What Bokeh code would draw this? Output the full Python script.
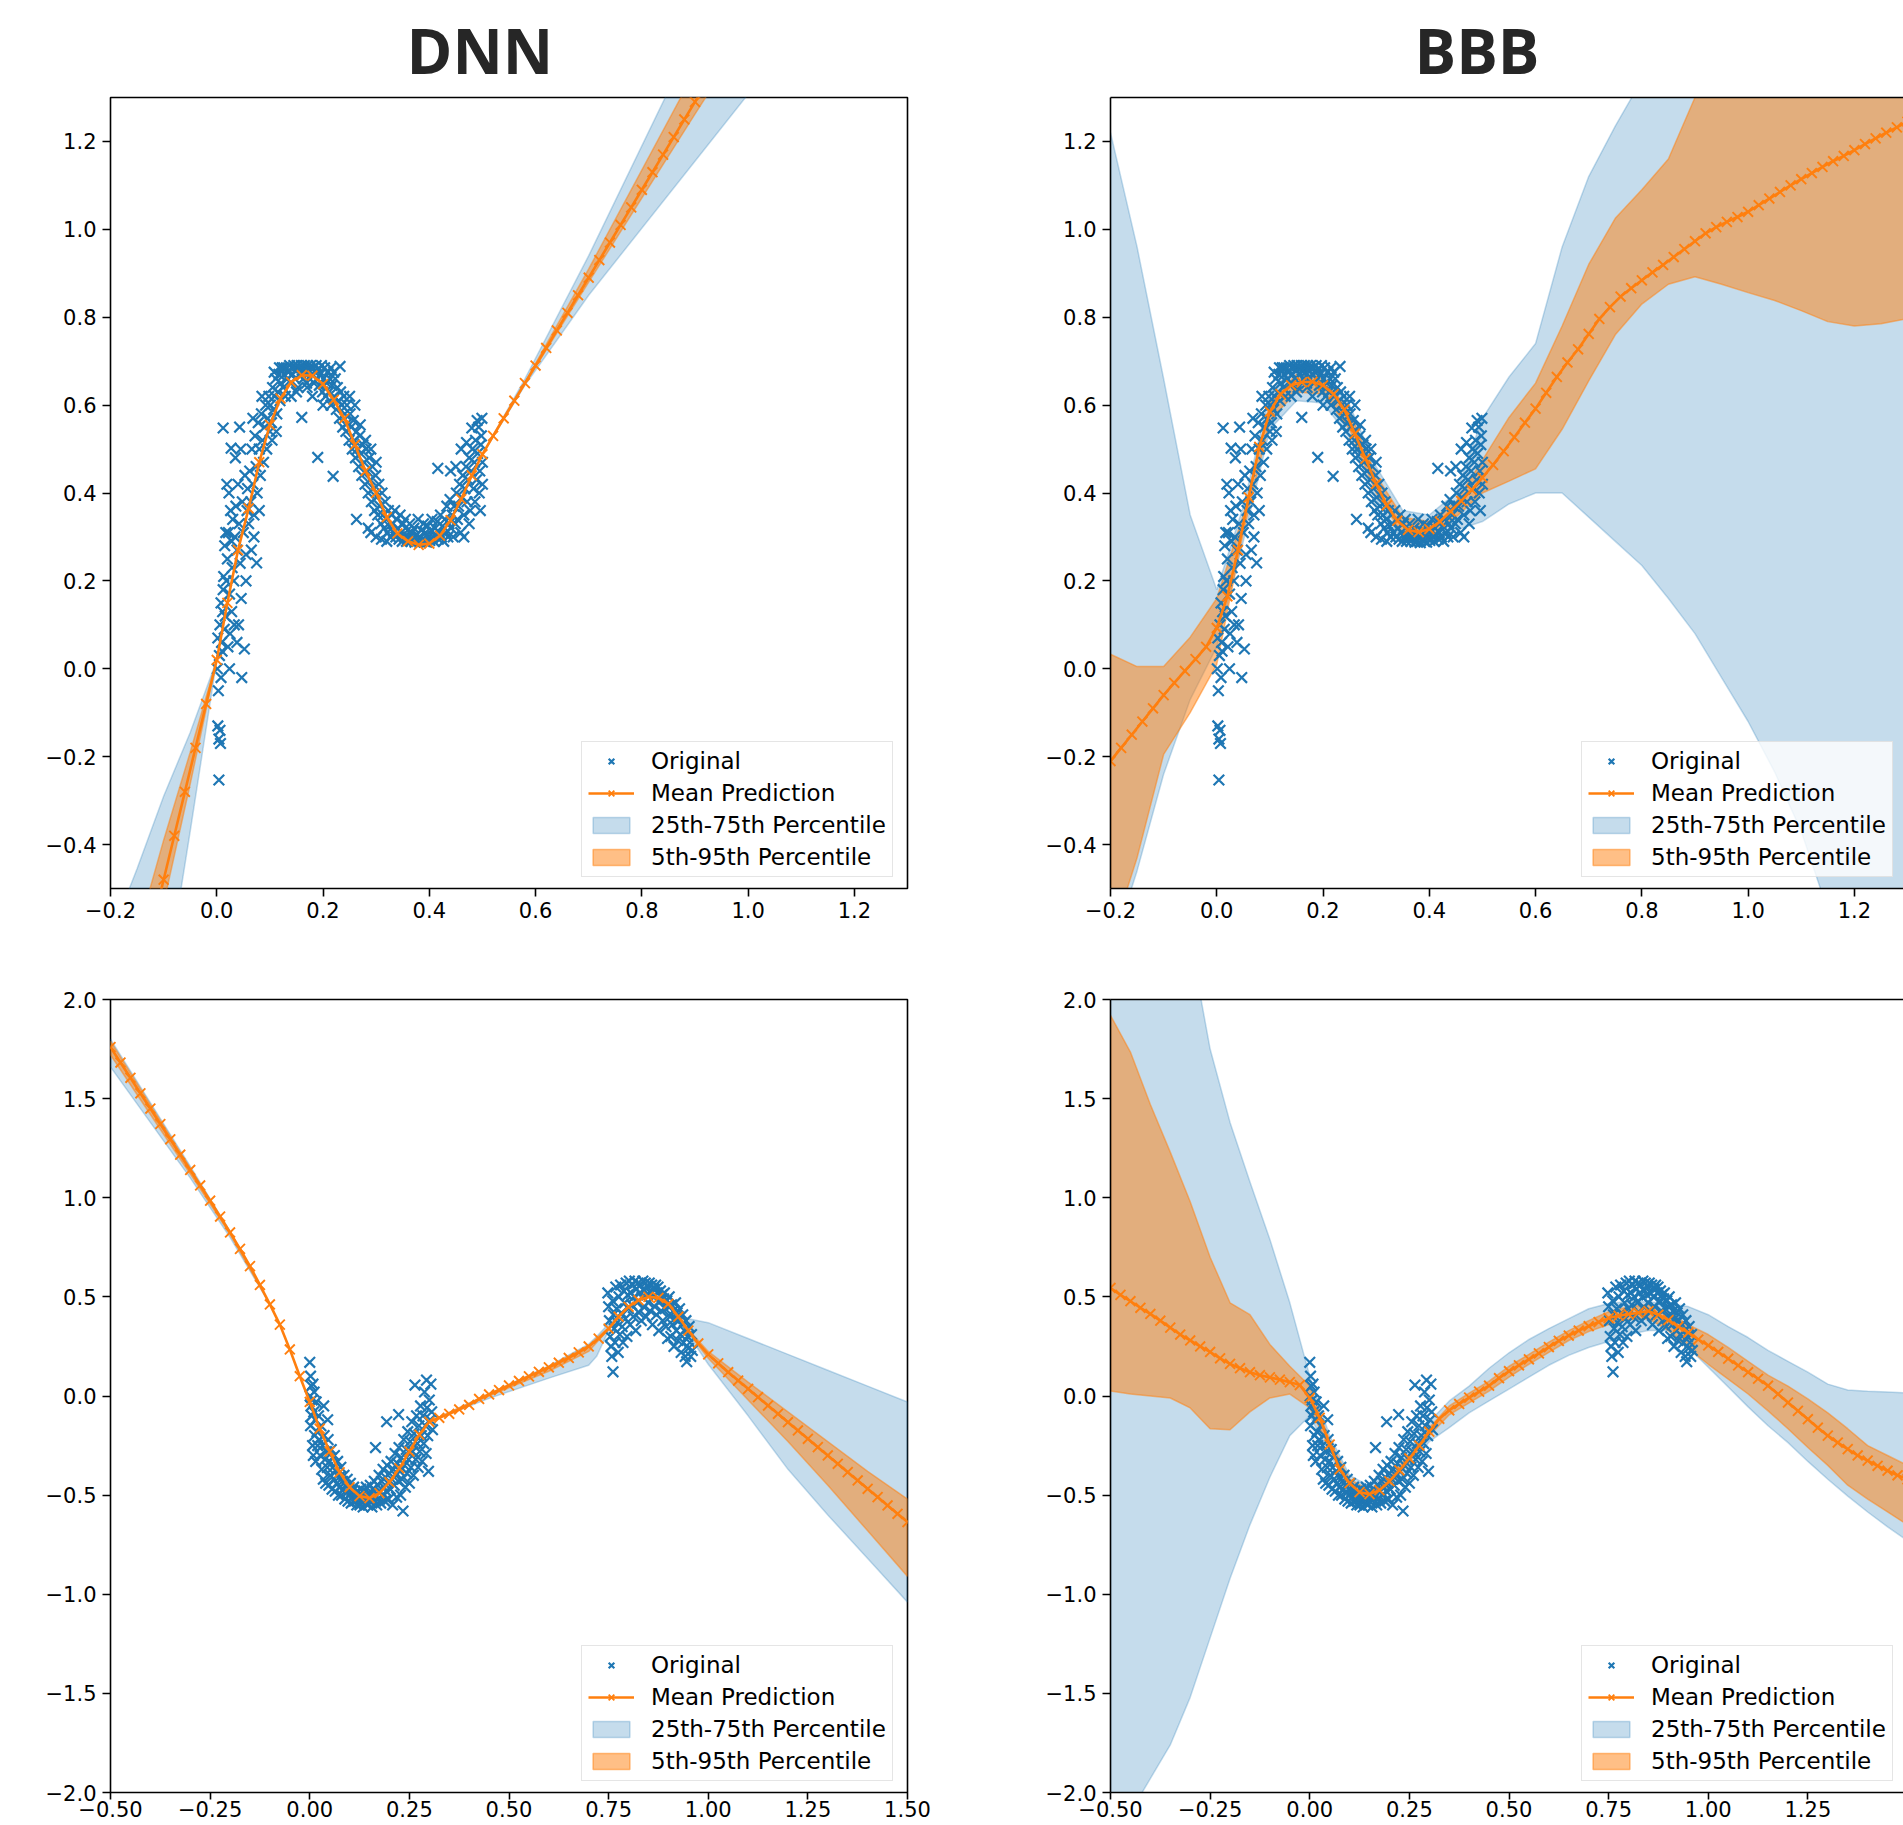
from bokeh.plotting import figure
from bokeh.layouts import column, row
from bokeh.models import (Range1d, FixedTicker, Legend, LegendItem, LinearAxis,
                          CustomJSTickFormatter)
from bokeh.embed import file_html
from bokeh.resources import INLINE

# ------------------------------------------------------------------ data
# evaluation grid of the top (toy regression 1) panels
top_grid_x = [-0.2,-0.18,-0.16,-0.14,-0.12,-0.1,-0.08,-0.06,-0.04,-0.02,
              0.0,0.02,0.04,0.06,0.08,0.1,0.12,0.14,0.16,0.18,
              0.2,0.22,0.24,0.26,0.28,0.3,0.32,0.34,0.36,0.38,
              0.4,0.42,0.44,0.46,0.48,0.5,0.52,0.54,0.56,0.58,
              0.6,0.62,0.64,0.66,0.68,0.7,0.72,0.74,0.76,0.78,
              0.8,0.82,0.84,0.86,0.88,0.9,0.92,0.94,0.96,0.98,
              1.0,1.02,1.04,1.06,1.08,1.1,1.12,1.14,1.16,1.18,
              1.2,1.22,1.24,1.26,1.28,1.3]

dnn_top_mean = [-0.99,-0.885,-0.78,-0.68,-0.58,-0.48,-0.38,-0.28,-0.18,-0.08,
                0.02,0.15,0.27,0.365,0.47,0.555,0.615,0.652,0.668,0.667,
                0.648,0.612,0.57,0.51,0.45,0.40,0.345,0.308,0.29,0.282,
                0.285,0.303,0.338,0.386,0.44,0.488,0.53,0.57,0.61,0.65,
                0.69,0.73,0.77,0.81,0.85,0.89,0.93,0.97,1.01,1.05,
                1.09,1.13,1.17,1.21,1.25,1.29,1.33,1.37,1.41,1.45,
                1.49,1.53,1.57,1.61,1.65,1.69,1.73,1.77,1.81,1.85,
                1.89,1.93,1.97,2.01,2.05,2.09]

bbb_top_mean = [-0.21,-0.18,-0.15,-0.12,-0.09,-0.06,-0.032,-0.005,0.022,0.05,
                0.093,0.165,0.27,0.39,0.505,0.585,0.625,0.645,0.652,0.653,
                0.645,0.625,0.59,0.535,0.478,0.421,0.372,0.337,0.316,0.311,
                0.318,0.335,0.358,0.382,0.407,0.435,0.464,0.495,0.527,0.56,
                0.592,0.628,0.664,0.697,0.727,0.762,0.796,0.823,0.847,0.866,
                0.884,0.902,0.919,0.937,0.955,0.973,0.991,1.005,1.017,1.028,
                1.04,1.055,1.07,1.085,1.1,1.114,1.128,1.142,1.155,1.167,
                1.18,1.194,1.207,1.22,1.232,1.245]

# evaluation grid of the bottom (toy regression 2) panels
bottom_grid_x = [-0.5,-0.475,-0.45,-0.425,-0.4,-0.375,-0.35,-0.325,-0.3,-0.275,
                 -0.25,-0.225,-0.2,-0.175,-0.15,-0.125,-0.1,-0.075,-0.05,-0.025,
                 0.0,0.025,0.05,0.075,0.1,0.125,0.15,0.175,0.2,0.225,
                 0.25,0.275,0.3,0.325,0.35,0.375,0.4,0.425,0.45,0.475,
                 0.5,0.525,0.55,0.575,0.6,0.625,0.65,0.675,0.7,0.725,
                 0.75,0.775,0.8,0.825,0.85,0.875,0.9,0.925,0.95,0.975,
                 1.0,1.025,1.05,1.075,1.1,1.125,1.15,1.175,1.2,1.225,
                 1.25,1.275,1.3,1.325,1.35,1.375,1.4,1.425,1.45,1.475,
                 1.5]

dnn_bottom_mean = [1.76,1.682,1.605,1.527,1.45,1.372,1.295,1.217,1.14,1.062,
                   0.985,0.905,0.825,0.742,0.655,0.56,0.462,0.36,0.235,0.10,
                   -0.03,-0.165,-0.28,-0.385,-0.46,-0.505,-0.515,-0.49,-0.435,-0.365,
                   -0.28,-0.195,-0.13,-0.11,-0.09,-0.068,-0.045,-0.015,0.008,0.03,
                   0.053,0.076,0.099,0.122,0.145,0.168,0.192,0.22,0.25,0.29,
                   0.34,0.40,0.45,0.483,0.50,0.495,0.465,0.40,0.33,0.265,
                   0.21,0.165,0.12,0.078,0.036,-0.006,-0.048,-0.09,-0.132,-0.174,
                   -0.216,-0.258,-0.30,-0.342,-0.384,-0.426,-0.468,-0.51,-0.552,-0.594,
                   -0.636]

bbb_bottom_mean = [0.545,0.51,0.478,0.445,0.414,0.38,0.345,0.31,0.28,0.25,
                   0.222,0.19,0.162,0.14,0.12,0.105,0.094,0.082,0.07,0.055,
                   -0.01,-0.11,-0.245,-0.37,-0.44,-0.485,-0.495,-0.475,-0.43,-0.375,
                   -0.315,-0.25,-0.18,-0.115,-0.072,-0.04,-0.008,0.022,0.052,0.09,
                   0.125,0.155,0.185,0.215,0.247,0.278,0.305,0.33,0.352,0.373,
                   0.393,0.405,0.413,0.42,0.428,0.41,0.383,0.35,0.32,0.285,
                   0.255,0.222,0.188,0.154,0.12,0.087,0.052,0.01,-0.033,-0.075,
                   -0.117,-0.16,-0.2,-0.235,-0.268,-0.3,-0.326,-0.352,-0.377,-0.4,
                   -0.42]

# percentile bands: pieces of (x knots, blue low/high, orange low/high)
dnn_top_band_x = [[-0.2,-0.15,-0.1,-0.05,0.0],
                  [0.5,0.58,0.7,0.9,1.1,1.3]]
dnn_top_blue_lo = [[-1.53,-1.145,-0.75,-0.37,0.02],
                   [0.488,0.645,0.85,1.155,1.46,1.76]]
dnn_top_blue_hi = [[-0.61,-0.455,-0.29,-0.145,0.02],
                   [0.488,0.66,0.94,1.44,1.95,2.45]]
dnn_top_orange_lo = [[-1.10,-0.8225,-0.535,-0.2625,0.02],
                     [0.488,0.648,0.88,1.262,1.64,2.02]]
dnn_top_orange_hi = [[-0.81,-0.605,-0.39,-0.19,0.02],
                     [0.488,0.652,0.91,1.36,1.80,2.25]]

bbb_top_band_x = [[-0.2,-0.15,-0.1,-0.05,0.0,0.05,0.1,0.15,0.2,0.25,0.3,0.35,0.4,0.45,0.5,0.55,
                   0.6,0.65,0.7,0.75,0.8,0.85,0.9,0.95,1.0,1.05,1.1,1.15,1.2,1.25,1.3]]
bbb_top_blue_lo = [[-0.65,-0.46,-0.24,-0.07,0.05,0.29,0.545,0.61,0.605,0.525,0.385,0.29,0.285,0.315,0.335,0.375,
                    0.40,0.40,0.345,0.29,0.235,0.16,0.08,-0.02,-0.12,-0.235,-0.37,-0.55,-0.75,-0.95,-1.15]]
bbb_top_blue_hi = [[1.22,0.96,0.66,0.35,0.18,0.37,0.63,0.69,0.685,0.60,0.46,0.36,0.35,0.40,0.57,0.664,
                    0.74,0.96,1.12,1.235,1.34,1.45,1.55,1.65,1.75,1.85,1.95,2.05,2.15,2.25,2.35]]
bbb_top_orange_lo = [[-0.62,-0.43,-0.195,-0.10,0.01,0.31,0.565,0.63,0.625,0.545,0.40,0.305,0.298,0.345,0.40,0.427,
                      0.455,0.545,0.655,0.76,0.83,0.875,0.892,0.875,0.856,0.838,0.815,0.79,0.78,0.785,0.797]]
bbb_top_orange_hi = [[0.033,0.005,0.005,0.072,0.16,0.35,0.605,0.67,0.665,0.585,0.44,0.345,0.335,0.38,0.475,0.572,
                      0.65,0.78,0.92,1.025,1.09,1.16,1.30,1.45,1.55,1.65,1.75,1.85,1.95,2.05,2.15]]

dnn_bottom_band_x = [[-0.5,-0.4,-0.3,-0.2,-0.1],
                     [0.3,0.45,0.6,0.7,0.72,0.75,0.78],
                     [0.92,0.95,1.0,1.1,1.2,1.3,1.4,1.5]]
dnn_bottom_blue_lo = [[1.66,1.38,1.10,0.80,0.462],
                      [-0.13,-0.012,0.09,0.155,0.2,0.33,0.41],
                      [0.413,0.31,0.16,-0.10,-0.37,-0.60,-0.82,-1.04]]
dnn_bottom_blue_hi = [[1.80,1.48,1.16,0.83,0.462],
                      [-0.13,0.012,0.152,0.262,0.30,0.365,0.41],
                      [0.413,0.39,0.37,0.29,0.21,0.13,0.05,-0.03]]
dnn_bottom_orange_lo = [[1.72,1.42,1.12,0.815,0.462],
                        [-0.13,0.0,0.125,0.225,0.27,0.335,0.41],
                        [0.413,0.32,0.19,-0.02,-0.23,-0.45,-0.68,-0.91]]
dnn_bottom_orange_hi = [[1.79,1.47,1.15,0.83,0.462],
                        [-0.13,0.01,0.148,0.255,0.293,0.345,0.41],
                        [0.413,0.335,0.225,0.07,-0.08,-0.23,-0.38,-0.52]]

bbb_bottom_band_x = [[-0.5,-0.45,-0.4,-0.35,-0.3,-0.25,-0.2,-0.15,-0.1,-0.05,0.0,0.05,0.1,0.15,0.2,0.25,0.3,
                      0.35,0.4,0.45,0.5,0.55,0.6,0.65,0.7,0.75,0.8,0.85,0.9,0.95,1.0,1.05,1.1,1.15,1.2,
                      1.25,1.3,1.35,1.4,1.45,1.5]]
bbb_bottom_blue_lo = [[-2.3,-2.1,-1.93,-1.76,-1.52,-1.22,-0.92,-0.65,-0.41,-0.2,-0.1,-0.29,-0.48,-0.535,-0.47,
                       -0.36,-0.23,-0.16,-0.085,-0.025,0.035,0.095,0.155,0.205,0.245,0.275,0.31,0.33,0.33,
                       0.245,0.145,0.045,-0.055,-0.15,-0.235,-0.33,-0.42,-0.505,-0.585,-0.66,-0.73]]
bbb_bottom_blue_hi = [[3.2,3.0,2.8,2.55,2.3,1.75,1.38,1.08,0.79,0.47,0.1,-0.2,-0.40,-0.455,-0.39,-0.27,-0.13,
                       -0.025,0.05,0.14,0.218,0.285,0.34,0.39,0.44,0.467,0.477,0.476,0.465,0.451,0.41,0.35,
                       0.295,0.23,0.175,0.12,0.06,0.03,0.024,0.02,0.015]]
bbb_bottom_orange_lo = [[0.025,0.01,0.0,-0.01,-0.06,-0.165,-0.17,-0.08,-0.01,0.01,-0.06,-0.265,-0.46,-0.515,
                         -0.45,-0.335,-0.2,-0.095,-0.035,0.025,0.095,0.16,0.22,0.28,0.325,0.36,0.385,0.39,
                         0.33,0.24,0.16,0.085,0.01,-0.075,-0.165,-0.26,-0.35,-0.45,-0.52,-0.585,-0.65]]
bbb_bottom_orange_hi = [[1.92,1.735,1.47,1.23,0.98,0.70,0.47,0.41,0.26,0.15,0.05,-0.225,-0.42,-0.475,-0.41,
                         -0.295,-0.16,-0.05,0.015,0.075,0.15,0.21,0.272,0.33,0.38,0.425,0.45,0.462,0.42,0.36,
                         0.31,0.245,0.175,0.105,0.05,-0.015,-0.085,-0.165,-0.25,-0.3,-0.35]]

top_points = [
    (0.002,-0.13),(0.004,-0.16),(0.006,-0.14),(0.007,-0.17),(0.004,-0.253),(0.003,-0.05),(0.001,0.0),
    (0.005,0.03),(0.008,-0.02),(0.002,0.07),(0.006,0.1),(0.009,0.06),(0.011,0.13),(0.012,0.18),
    (0.010,0.04),(0.013,0.21),(0.014,0.09),(0.008,0.15),(0.015,0.28),(0.012,0.548),
    (0.016,0.12),(0.018,0.2),(0.02,0.25),(0.022,0.31),(0.024,0.17),(0.026,0.36),(0.028,0.29),
    (0.019,0.42),(0.023,0.4),(0.027,0.502),(0.025,0.08),(0.029,0.23),(0.021,0.05),(0.017,0.31),
    (0.03,0.34),(0.024,0.0),(0.028,0.13),
    (0.032,0.2),(0.034,0.3),(0.036,0.37),(0.038,0.27),(0.04,0.42),(0.042,0.33),(0.044,0.24),
    (0.046,0.16),(0.048,0.38),(0.05,0.31),(0.052,0.045),(0.047,-0.02),(0.041,0.1),(0.055,0.26),
    (0.057,0.36),(0.053,0.44),(0.035,0.48),(0.045,0.5),(0.058,0.41),(0.033,0.1),(0.038,0.06),
    (0.055,0.2),(0.043,0.55),(0.06,0.33),
    (0.062,0.45),(0.064,0.38),(0.066,0.5),(0.068,0.42),(0.07,0.35),(0.072,0.53),(0.074,0.46),
    (0.075,0.241),(0.076,0.4),(0.078,0.56),(0.08,0.5),(0.082,0.44),(0.084,0.58),(0.086,0.52),
    (0.088,0.47),(0.09,0.55),(0.092,0.6),(0.094,0.5),(0.096,0.57),(0.098,0.62),(0.07,0.3),
    (0.065,0.27),(0.08,0.36),(0.1,0.54),(0.085,0.62),(0.068,0.57),
    (0.101,0.6),(0.103,0.56),(0.105,0.64),(0.107,0.59),(0.109,0.62),(0.111,0.66),(0.113,0.58),
    (0.115,0.63),(0.117,0.67),(0.119,0.61),(0.121,0.65),(0.123,0.685),(0.125,0.64),(0.127,0.67),
    (0.129,0.62),(0.104,0.52),(0.112,0.54),(0.118,0.685),(0.126,0.685),(0.108,0.675),
    (0.131,0.685),(0.133,0.66),(0.135,0.675),(0.137,0.69),(0.139,0.65),(0.141,0.685),(0.143,0.67),
    (0.145,0.69),(0.147,0.66),(0.149,0.68),(0.151,0.69),(0.153,0.64),(0.155,0.685),(0.157,0.67),
    (0.159,0.69),(0.16,0.572),(0.161,0.68),(0.163,0.66),(0.165,0.69),(0.167,0.675),(0.169,0.65),
    (0.171,0.69),(0.173,0.68),(0.175,0.66),(0.177,0.69),(0.179,0.67),(0.181,0.685),(0.183,0.65),
    (0.185,0.675),(0.187,0.69),(0.189,0.66),(0.19,0.481),(0.191,0.68),(0.193,0.645),(0.195,0.67),
    (0.197,0.69),(0.199,0.63),(0.201,0.66),(0.203,0.685),(0.205,0.62),(0.207,0.65),(0.209,0.675),
    (0.14,0.62),(0.15,0.63),(0.17,0.64),(0.18,0.62),(0.2,0.6),(0.232,0.688),(0.215,0.685),(0.22,0.675),
    (0.211,0.63),(0.213,0.66),(0.215,0.6),(0.217,0.645),(0.219,0.438),(0.221,0.62),(0.223,0.66),
    (0.225,0.59),(0.227,0.64),(0.229,0.61),(0.231,0.57),(0.233,0.63),(0.235,0.6),(0.237,0.55),
    (0.239,0.62),(0.241,0.58),(0.243,0.54),(0.245,0.6),(0.247,0.56),(0.249,0.52),(0.251,0.58),
    (0.253,0.55),(0.255,0.5),(0.257,0.565),(0.259,0.52),(0.261,0.48),(0.263,0.34),(0.263,0.54),
    (0.265,0.5),(0.267,0.46),(0.269,0.53),(0.271,0.49),(0.273,0.44),(0.275,0.51),(0.277,0.47),
    (0.279,0.42),(0.281,0.5),(0.283,0.45),(0.285,0.4),(0.287,0.48),(0.289,0.43),(0.291,0.38),
    (0.293,0.46),(0.295,0.41),(0.297,0.36),(0.299,0.44),(0.301,0.39),(0.303,0.35),(0.305,0.42),
    (0.307,0.37),(0.309,0.33),(0.311,0.4),(0.313,0.35),(0.315,0.32),(0.317,0.38),(0.319,0.34),
    (0.321,0.31),(0.323,0.36),(0.325,0.325),(0.327,0.3),(0.329,0.35),
    (0.27,0.555),(0.29,0.5),(0.28,0.52),(0.3,0.47),(0.26,0.6),(0.25,0.62),
    (0.331,0.33),(0.333,0.31),(0.335,0.36),(0.337,0.3),(0.339,0.34),(0.341,0.32),(0.343,0.295),
    (0.345,0.35),(0.347,0.31),(0.349,0.29),(0.351,0.33),(0.353,0.3),(0.355,0.34),(0.357,0.29),
    (0.359,0.315),(0.361,0.3),(0.363,0.33),(0.365,0.29),(0.367,0.31),(0.369,0.295),(0.371,0.32),
    (0.373,0.288),(0.375,0.305),(0.377,0.29),(0.379,0.34),(0.381,0.3),(0.383,0.287),(0.385,0.315),
    (0.387,0.295),(0.389,0.33),(0.391,0.29),(0.393,0.31),(0.395,0.288),(0.397,0.325),(0.399,0.3),
    (0.401,0.292),(0.403,0.315),(0.405,0.34),(0.407,0.3),(0.409,0.29),(0.411,0.32),(0.413,0.305),
    (0.415,0.335),(0.417,0.295),(0.419,0.31),(0.421,0.35),(0.423,0.3),(0.425,0.325),(0.427,0.29),
    (0.429,0.34),(0.431,0.31),(0.433,0.37),(0.435,0.3),(0.437,0.33),(0.439,0.385),(0.441,0.32),
    (0.443,0.35),(0.445,0.3),(0.447,0.37),(0.449,0.33),
    (0.285,0.32),(0.29,0.31),(0.3,0.3),(0.31,0.295),(0.32,0.29),
    (0.451,0.4),(0.453,0.34),(0.455,0.37),(0.457,0.42),(0.459,0.31),(0.461,0.39),(0.463,0.44),
    (0.465,0.35),(0.467,0.41),(0.469,0.46),(0.471,0.38),(0.473,0.43),(0.475,0.48),(0.477,0.36),
    (0.479,0.45),(0.481,0.5),(0.483,0.41),(0.485,0.47),(0.487,0.52),(0.489,0.43),(0.491,0.49),
    (0.493,0.55),(0.495,0.45),(0.497,0.51),(0.499,0.57),(0.5,0.47),(0.498,0.53),(0.494,0.4),
    (0.486,0.38),(0.49,0.565),(0.48,0.548),(0.47,0.515),(0.44,0.45),(0.416,0.456),(0.46,0.5),
    (0.45,0.46),(0.475,0.33),(0.465,0.3),(0.5,0.42),(0.496,0.36),
]

bottom_points = [
    (0.0,0.17),(0.002,0.1),(0.004,0.05),(0.001,0.0),(0.003,-0.05),(0.005,-0.1),(0.002,-0.15),
    (0.006,-0.02),(0.008,0.06),(0.01,-0.08),(0.012,-0.2),(0.007,-0.25),(0.014,-0.12),(0.016,-0.03),
    (0.018,-0.18),(0.011,0.02),(0.02,-0.25),(0.009,-0.3),(0.015,-0.33),
    (0.022,-0.1),(0.024,-0.22),(0.026,-0.3),(0.028,-0.15),(0.03,-0.37),(0.032,-0.25),(0.034,-0.42),
    (0.036,-0.2),(0.038,-0.32),(0.04,-0.44),(0.042,-0.28),(0.044,-0.36),(0.046,-0.22),(0.048,-0.45),
    (0.05,-0.33),(0.052,-0.4),(0.054,-0.27),(0.056,-0.47),(0.058,-0.36),(0.06,-0.42),(0.035,-0.05),
    (0.045,-0.12),
    (0.062,-0.3),(0.064,-0.48),(0.066,-0.38),(0.068,-0.44),(0.07,-0.33),(0.072,-0.5),(0.074,-0.41),
    (0.076,-0.46),(0.078,-0.36),(0.08,-0.5),(0.082,-0.43),(0.084,-0.47),(0.086,-0.4),(0.088,-0.52),
    (0.09,-0.45),(0.092,-0.49),(0.094,-0.42),(0.096,-0.53),(0.098,-0.47),(0.1,-0.5),(0.102,-0.44),
    (0.104,-0.54),(0.106,-0.48),(0.108,-0.51),(0.11,-0.46),(0.112,-0.53),(0.114,-0.49),(0.116,-0.52),
    (0.118,-0.55),(0.12,-0.48),
    (0.122,-0.52),(0.124,-0.5),(0.126,-0.55),(0.128,-0.47),(0.13,-0.53),(0.132,-0.5),(0.134,-0.56),
    (0.136,-0.48),(0.138,-0.52),(0.14,-0.54),(0.142,-0.46),(0.144,-0.51),(0.146,-0.55),(0.148,-0.49),
    (0.15,-0.53),(0.152,-0.45),(0.154,-0.5),(0.156,-0.56),(0.158,-0.47),(0.16,-0.52),(0.162,-0.43),
    (0.165,-0.26),(0.166,-0.5),(0.168,-0.55),(0.17,-0.45),(0.172,-0.52),(0.174,-0.4),(0.176,-0.48),
    (0.178,-0.54),(0.18,-0.43),(0.182,-0.5),(0.184,-0.37),(0.186,-0.46),(0.188,-0.53),(0.19,-0.41),
    (0.192,-0.48),(0.193,-0.13),(0.194,-0.35),(0.196,-0.44),(0.198,-0.52),(0.2,-0.39),
    (0.202,-0.47),(0.204,-0.33),(0.206,-0.42),(0.208,-0.55),(0.21,-0.37),(0.212,-0.45),(0.214,-0.29),
    (0.216,-0.4),(0.218,-0.51),(0.22,-0.34),(0.222,-0.43),(0.223,-0.094),(0.224,-0.26),(0.226,-0.38),
    (0.228,-0.5),(0.23,-0.31),(0.232,-0.42),(0.234,-0.58),(0.236,-0.22),(0.238,-0.35),(0.24,-0.46),
    (0.242,-0.27),(0.244,-0.39),(0.246,-0.18),(0.248,-0.32),(0.25,-0.44),(0.252,-0.23),(0.254,-0.36),
    (0.256,-0.13),(0.258,-0.28),(0.26,-0.4),(0.262,-0.19),(0.264,0.055),(0.266,-0.32),(0.268,-0.1),
    (0.27,-0.24),(0.272,-0.36),(0.274,-0.15),(0.276,-0.28),(0.278,-0.05),(0.28,-0.2),(0.282,-0.33),
    (0.284,-0.1),(0.286,-0.24),(0.288,0.02),(0.29,-0.15),(0.292,-0.29),(0.293,0.08),(0.294,-0.06),
    (0.296,-0.2),(0.298,-0.38),(0.3,-0.02),(0.302,-0.12),(0.304,0.06),(0.306,-0.08),(0.308,-0.17),
    (0.748,0.52),(0.75,0.45),(0.752,0.38),(0.754,0.3),(0.756,0.25),(0.758,0.2),(0.761,0.122),
    (0.76,0.48),(0.762,0.41),(0.764,0.34),(0.766,0.27),(0.768,0.55),(0.77,0.44),(0.772,0.37),
    (0.774,0.22),(0.776,0.5),(0.778,0.31),(0.78,0.56),(0.782,0.42),(0.784,0.35),(0.786,0.27),
    (0.788,0.53),(0.79,0.47),(0.792,0.39),(0.794,0.57),(0.796,0.3),(0.798,0.51),(0.8,0.44),
    (0.802,0.58),(0.804,0.36),(0.806,0.52),(0.808,0.46),(0.81,0.56),(0.812,0.4),(0.814,0.5),
    (0.816,0.58),(0.818,0.33),(0.82,0.54),(0.822,0.47),(0.824,0.57),(0.826,0.42),(0.828,0.52),
    (0.83,0.56),(0.832,0.38),(0.834,0.5),(0.836,0.58),(0.838,0.45),(0.84,0.53),(0.842,0.57),
    (0.844,0.4),(0.846,0.51),(0.848,0.55),(0.85,0.47),(0.852,0.57),(0.854,0.43),(0.856,0.52),
    (0.858,0.56),(0.86,0.36),(0.862,0.5),(0.864,0.54),(0.866,0.45),(0.868,0.56),(0.87,0.41),
    (0.872,0.52),(0.874,0.55),(0.876,0.33),(0.878,0.48),(0.88,0.53),(0.882,0.43),(0.884,0.51),
    (0.886,0.38),(0.888,0.49),(0.89,0.52),(0.892,0.44),(0.894,0.35),(0.896,0.48),(0.898,0.29),
    (0.9,0.45),(0.902,0.5),(0.904,0.4),(0.906,0.3),(0.908,0.46),(0.91,0.36),(0.912,0.43),
    (0.914,0.25),(0.916,0.39),(0.918,0.47),(0.92,0.33),(0.922,0.42),(0.924,0.28),(0.926,0.38),
    (0.928,0.44),(0.93,0.31),(0.932,0.22),(0.934,0.36),(0.936,0.41),(0.938,0.27),(0.94,0.33),
    (0.942,0.2),(0.944,0.38),(0.946,0.173),(0.948,0.3),(0.95,0.24),(0.952,0.35),(0.954,0.27),
    (0.956,0.2),(0.958,0.31),(0.96,0.23),
]

top_x_ticks = [-0.2, 0.0, 0.2, 0.4, 0.6, 0.8, 1.0, 1.2]
top_y_ticks = [-0.4, -0.2, 0.0, 0.2, 0.4, 0.6, 0.8, 1.0, 1.2]
bottom_x_ticks = [-0.5, -0.25, 0.0, 0.25, 0.5, 0.75, 1.0, 1.25, 1.5]
bottom_y_ticks = [-2.0, -1.5, -1.0, -0.5, 0.0, 0.5, 1.0, 1.5, 2.0]

column_titles = ["DNN", "BBB"]
legend_labels = ["Original", "Mean Prediction", "25th-75th Percentile", "5th-95th Percentile"]

# ------------------------------------------------------------------ style
BLUE = "#1f77b4"
ORANGE = "#ff7f0e"
FRAME_W = 797
TICK_FONT = "DejaVu Sans"


def fmt(decimals):
    return CustomJSTickFormatter(
        code="return tick.toFixed(%d).replace('-', '\u2212');" % decimals)


def style_axis(ax, ticks, decimals, line_color, standoff):
    ax.ticker = FixedTicker(ticks=ticks, minor_ticks=[])
    ax.formatter = fmt(decimals)
    ax.major_tick_out = 8
    ax.major_tick_in = 0
    ax.minor_tick_out = 0
    ax.minor_tick_in = 0
    ax.major_tick_line_color = "black"
    ax.major_tick_line_width = 1.6
    ax.major_label_text_font = TICK_FONT
    ax.major_label_text_font_size = "21px"
    ax.major_label_text_color = "black"
    ax.major_label_standoff = standoff
    ax.axis_line_color = line_color
    ax.axis_line_width = 1.6


def panel(kind, col, grid_x, mean, band_x, blue_lo, blue_hi, orange_lo, orange_hi, points):
    if kind == "top":
        x0, x1, y0, y1 = -0.2, 1.3, -0.5, 1.3
        xt, yt, xd, yd = top_x_ticks, top_y_ticks, 1, 1
        height, mbt, mbb = 950, 96, 62
        xstand = 5
    else:
        x0, x1, y0, y1 = -0.5, 1.5, -2.0, 2.0
        xt, yt, xd, yd = bottom_x_ticks, bottom_y_ticks, 2, 1
        height, mbt, mbb = 875, 49, 33
        xstand = 1
    if col == 0:
        width, mbl, mbr, xend = 1000, 110, 93, x1
    else:
        # right column is cut by the page edge
        width, mbl, mbr = 903, 110, 0
        xend = x0 + 793 * (x1 - x0) / FRAME_W

    p = figure(width=width, height=height, x_range=Range1d(x0, xend), y_range=Range1d(y0, y1),
               output_backend="svg", toolbar_location=None,
               min_border_left=mbl, min_border_right=mbr, min_border_top=mbt, min_border_bottom=mbb,
               background_fill_color="white", border_fill_color="white")
    p.xgrid.visible = False
    p.ygrid.visible = False

    frame_line = None if col == 0 else "black"
    style_axis(p.xaxis[0], xt, xd, frame_line, xstand)
    style_axis(p.yaxis[0], yt, yd, frame_line, 6)
    if kind == "bottom":
        p.xaxis[0].major_tick_out = 7
    if col == 0:
        p.outline_line_color = "black"
        p.outline_line_width = 1.6
        p.outline_line_alpha = 1.0
    else:
        p.outline_line_color = None
        top_ax = LinearAxis(ticker=FixedTicker(ticks=[], minor_ticks=[]),
                            axis_line_color="black", axis_line_width=1.6,
                            major_tick_out=0, major_tick_in=0, minor_tick_out=0, minor_tick_in=0,
                            major_label_text_font_size="0px", major_label_standoff=0)
        p.add_layout(top_ax, "above")

    # bands
    bxs, bys, oxs, oys = [], [], [], []
    for bx, lo, hi in zip(band_x, blue_lo, blue_hi):
        bxs.append(bx + bx[::-1])
        bys.append(hi + lo[::-1])
    for bx, lo, hi in zip(band_x, orange_lo, orange_hi):
        oxs.append(bx + bx[::-1])
        oys.append(hi + lo[::-1])
    r_blue = p.patches(bxs, bys, fill_color=BLUE, fill_alpha=0.26,
                       line_color=BLUE, line_alpha=0.26, line_width=1.5)
    r_orange = p.patches(oxs, oys, fill_color=ORANGE, fill_alpha=0.5,
                         line_color=ORANGE, line_alpha=0.5, line_width=1.5)

    px = [pt[0] for pt in points]
    py = [pt[1] for pt in points]
    r_pts = p.scatter(px, py, marker="x", size=15, line_color=BLUE, line_width=2.2)
    r_line = p.line(grid_x, mean, line_color=ORANGE, line_width=2.6)
    r_mk = p.scatter(grid_x, mean, marker="x", size=14, line_color=ORANGE, line_width=1.9)

    legend = Legend(items=[LegendItem(label=legend_labels[0], renderers=[r_pts]),
                           LegendItem(label=legend_labels[1], renderers=[r_line, r_mk]),
                           LegendItem(label=legend_labels[2], renderers=[r_blue]),
                           LegendItem(label=legend_labels[3], renderers=[r_orange])],
                    location=(471, 11))
    legend.margin = 0
    legend.padding = 6
    legend.spacing = 6
    legend.glyph_width = 46
    legend.glyph_height = 20
    legend.label_standoff = 17
    legend.label_height = 20
    legend.label_text_font = TICK_FONT
    legend.label_text_font_size = "23px"
    legend.label_text_color = "black"
    legend.border_line_color = "#cccccc"
    legend.border_line_width = 1.5
    legend.background_fill_color = "white"
    legend.background_fill_alpha = 0.8
    p.add_layout(legend)

    if kind == "top":
        p.title.text = column_titles[col]
        p.title.align = "left"
        p.title.offset = 296 if col == 0 else 304
        p.title.text_font = "Open Sans"
        p.title.text_font_style = "bold"
        p.title.text_font_size = "62px"
        p.title.text_color = "#262626"
        p.title.standoff = 11
    return p


p_tl = panel("top", 0, top_grid_x, dnn_top_mean, dnn_top_band_x, dnn_top_blue_lo, dnn_top_blue_hi,
             dnn_top_orange_lo, dnn_top_orange_hi, top_points)
p_tr = panel("top", 1, top_grid_x, bbb_top_mean, bbb_top_band_x, bbb_top_blue_lo, bbb_top_blue_hi,
             bbb_top_orange_lo, bbb_top_orange_hi, top_points)
p_bl = panel("bottom", 0, bottom_grid_x, dnn_bottom_mean, dnn_bottom_band_x, dnn_bottom_blue_lo,
             dnn_bottom_blue_hi, dnn_bottom_orange_lo, dnn_bottom_orange_hi, bottom_points)
p_br = panel("bottom", 1, bottom_grid_x, bbb_bottom_mean, bbb_bottom_band_x, bbb_bottom_blue_lo,
             bbb_bottom_blue_hi, bbb_bottom_orange_lo, bbb_bottom_orange_hi, bottom_points)

layout = column(row(p_tl, p_tr), row(p_bl, p_br))

open("out.html", "w").write(file_html(layout, INLINE))
